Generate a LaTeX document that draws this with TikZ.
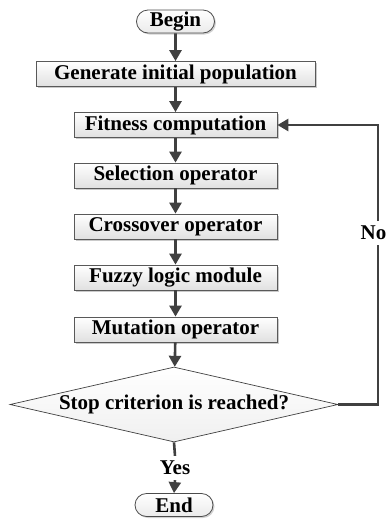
\documentclass[tikz,border=0pt]{standalone}
\usepackage{fontspec}
\setmainfont{Liberation Serif}
\usetikzlibrary{arrows.meta,shapes.geometric,shapes.misc,shadows}
\begin{document}
\begin{tikzpicture}[x=1pt,y=1pt,
  font=\fontsize{21}{24}\selectfont\bfseries,
  procbox/.style={rectangle,draw=black!65,line width=0.8pt,top color=white,bottom color=black!12,
    minimum height=25pt,inner sep=0pt,
    drop shadow={shadow xshift=1.5pt,shadow yshift=-1.5pt,opacity=0.35,fill=black!60}},
  pill/.style={rounded rectangle,draw=black!70,line width=0.8pt,top color=white,bottom color=black!8,
    minimum height=23pt,minimum width=78pt,inner sep=0pt,
    drop shadow={shadow xshift=1.5pt,shadow yshift=-1.5pt,opacity=0.3,fill=black!60}},
  decision/.style={diamond,aspect=4.37,draw=black!75,line width=0.7pt,top color=white,bottom color=black!6,
    inner sep=0pt,minimum width=328pt,minimum height=75pt},
  flow/.style={draw=black!75,line width=2.6pt,-{Triangle[length=11pt,width=12pt]}},
  plain/.style={draw=black!75,line width=2.6pt}
]
\useasboundingbox (0,0) rectangle (388,-520);
\node[pill] (begin) at (175.5,-21.5) {Begin};
\node[procbox,minimum width=279pt] (gen) at (175.5,-74) {Generate initial population};
\node[procbox,minimum width=203pt] (fit) at (175.5,-125) {Fitness computation};
\node[procbox,minimum width=203pt] (sel) at (175.5,-175.5) {Selection operator};
\node[procbox,minimum width=203pt] (cross) at (175.5,-226.5) {Crossover operator};
\node[procbox,minimum width=203pt] (fuzzy) at (175.5,-277.5) {Fuzzy logic module};
\node[procbox,minimum width=203pt] (mut) at (175.5,-329.5) {Mutation operator};
\node[decision] (stop) at (174,-404.5) {Stop criterion is reached?};
\node[inner sep=0pt,minimum height=24pt] (yes) at (175,-468) {Yes};
\node[pill] (end) at (174,-505) {End};
\coordinate (c1) at (378,-404.5);
\coordinate (c2) at (378,-125);
\node[fill=white,inner sep=0pt,minimum height=24pt] (no) at (373.5,-233) {No};
\coordinate (nb) at (378,-245);
\coordinate (nt) at (378,-221);

\draw[flow] (begin) -- (gen);
\draw[flow] (gen) -- (fit);
\draw[flow] (fit) -- (sel);
\draw[flow] (sel) -- (cross);
\draw[flow] (cross) -- (fuzzy);
\draw[flow] (fuzzy) -- (mut);
\draw[flow] (mut) -- (stop);
\draw[plain] (stop.south) -- (yes.north);
\draw[flow] (yes.south) -- (end.north);
\draw[plain] (stop.east) -- (c1) -- (nb);
\draw[flow] (nt) -- (c2) -- (fit.east);
\end{tikzpicture}
\end{document}
